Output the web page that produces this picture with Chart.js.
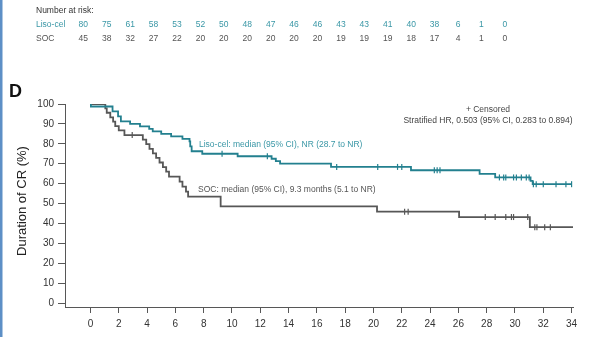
<!DOCTYPE html>
<html>
<head>
<meta charset="utf-8">
<script src="https://cdn.jsdelivr.net/npm/chart.js@4"></script>
<style>body{margin:0;background:#fff}</style>
</head>
<body>
<canvas id="myChart" width="599" height="337"></canvas>
<script>
// Duration of CR - Kaplan-Meier, Liso-cel vs SOC

const xTicks = [0, 2, 4, 6, 8, 10, 12, 14, 16, 18, 20, 22, 24, 26, 28, 30, 32, 34]
const yTicks = [0, 10, 20, 30, 40, 50, 60, 70, 80, 90, 100]

const lisoTimes = [0, 0.03, 1.56, 1.95, 2.15, 2.8, 3.5, 4.15, 4.4, 5.0, 5.7, 6.5, 7.0, 7.05, 7.15, 7.9, 10.4, 12.8, 13.1, 13.4, 17.0, 22.65, 27.5, 28.6, 31.1, 31.25]
const lisoSurv  = [100, 98.75, 96.25, 93.75, 91.25, 90, 88.75, 87.5, 86.25, 85, 83.75, 82.5, 81.25, 78.75, 76.25, 75, 73.75, 72.5, 71.25, 70, 68.4, 66.7, 64.9, 63.1, 61.4, 59.7]
const lisoCensored = [9.3, 12.5, 17.4, 20.3, 21.7, 22.0, 24.3, 24.5, 24.7, 28.9, 29.2, 29.35, 29.9, 30.1, 30.45, 30.8, 31.0, 31.3, 31.5, 32.0, 32.9, 33.6, 34.0]

const socTimes = [0, 1.05, 1.15, 1.4, 1.6, 1.75, 2.0, 2.4, 3.7, 3.94, 4.17, 4.41, 4.64, 4.88, 5.12, 5.35, 5.55, 6.3, 6.5, 6.75, 6.9, 9.2, 20.25, 26.05, 31.05]
const socSurv  = [100, 97.8, 95.6, 93.3, 91.1, 88.9, 86.7, 84.4, 82.1, 79.8, 77.5, 75.2, 72.9, 70.6, 68.3, 66.0, 63.5, 61.0, 58.5, 56.0, 53.5, 48.6, 45.9, 43.2, 38.1]
const socCensored = [2.95, 22.2, 22.45, 27.9, 28.6, 29.35, 29.75, 29.9, 30.9, 31.4, 31.55, 32.1, 32.5, 34.55]

const riskLiso = [80, 75, 61, 58, 53, 52, 50, 48, 47, 46, 46, 43, 43, 41, 40, 38, 6, 1, 0]
const riskSoc  = [45, 38, 32, 27, 22, 20, 20, 20, 20, 20, 20, 19, 19, 19, 18, 17, 4, 1, 0]

const teal = '#23808f'
const tealText = '#3a97a6'
const grey = '#575757'

function kmAt(times, surv, t) {
  let v = surv[0]
  for (let i = 0; i < times.length; i++) if (times[i] <= t) v = surv[i]
  return v
}

function curve(times, surv, cens) {
  const pts = times.map((t, i) => ({x: t, y: surv[i]}))
  const end = Math.max(...cens)
  if (end > times[times.length - 1]) pts.push({x: end, y: surv[surv.length - 1]})
  return pts
}

const ctx = document.querySelector('#myChart')

const data = {
  datasets: [
    {
      type: 'line', data: curve(lisoTimes, lisoSurv, lisoCensored),
      borderColor: teal, borderWidth: 1.8, stepped: 'before', pointRadius: 0, fill: false
    },
    {
      type: 'line', data: curve(socTimes, socSurv, socCensored),
      borderColor: grey, borderWidth: 1.8, stepped: 'before', pointRadius: 0, fill: false
    },
    {
      type: 'scatter', data: socCensored.map(t => ({x: t, y: kmAt(socTimes, socSurv, t)})),
      pointStyle: 'line', rotation: 90, radius: 3, borderColor: grey, borderWidth: 1.2
    },
    {
      type: 'scatter', data: lisoCensored.map(t => ({x: t, y: kmAt(lisoTimes, lisoSurv, t)})),
      pointStyle: 'line', rotation: 90, radius: 3, borderColor: teal, borderWidth: 1.2
    }
  ]
}

const textPlugin = {
  id: 'texts',
  afterDraw(chart) {
    const c = chart.ctx
    c.save()
    // left edge stripe
    c.fillStyle = '#5d8fc6'
    c.fillRect(0, 0, 2.5, 337)

    c.textBaseline = 'middle'
    c.textAlign = 'left'
    c.font = '8.5px "Liberation Sans"'
    c.fillStyle = '#333'
    c.fillText('Number at risk:', 36, 11)
    c.fillStyle = tealText
    c.fillText('Liso-cel', 36, 25)
    c.fillStyle = '#555'
    c.fillText('SOC', 36, 39)
    c.textAlign = 'center'
    riskLiso.forEach((n, i) => {
      c.fillStyle = tealText
      c.fillText(String(n), 83.3 + i * 23.42, 25)
    })
    riskSoc.forEach((n, i) => {
      c.fillStyle = '#555'
      c.fillText(String(n), 83.3 + i * 23.42, 39)
    })

    c.textAlign = 'left'
    c.fillStyle = '#111'
    c.font = 'bold 18px "Liberation Sans"'
    c.fillText('D', 9, 92)

    c.font = '8.5px "Liberation Sans"'
    c.fillStyle = tealText
    c.fillText('Liso-cel: median (95% CI), NR (28.7 to NR)', 199, 145)
    c.fillStyle = '#555'
    c.fillText('SOC: median (95% CI), 9.3 months (5.1 to NR)', 198, 190)

    c.textAlign = 'center'
    c.fillStyle = '#444'
    c.fillText('+ Censored', 488, 110)
    c.fillText('Stratified HR, 0.503 (95% CI, 0.283 to 0.894)', 488, 121)

    c.translate(22, 201)
    c.rotate(-Math.PI / 2)
    c.font = '13px "Liberation Sans"'
    c.fillStyle = '#222'
    c.fillText('Duration of CR (%)', 0, 0)
    c.restore()
  }
}

const options = {
  responsive: false,
  animation: false,
  layout: {padding: {left: 0, top: 104, right: 26, bottom: 0}},
  plugins: {legend: {display: false}, tooltip: {enabled: false}},
  scales: {
    x: {
      type: 'linear', min: -1.8, max: 34.1,
      afterBuildTicks: s => { s.ticks = xTicks.map(v => ({value: v})) },
      afterFit: s => { s.height = 30 },
      grid: {drawOnChartArea: false, drawTicks: true, tickLength: 6, color: grey},
      border: {color: grey, width: 1},
      ticks: {color: '#333', font: {family: 'Liberation Sans', size: 10}, padding: 5, maxRotation: 0}
    },
    y: {
      type: 'linear', min: -2, max: 100,
      afterBuildTicks: s => { s.ticks = yTicks.map(v => ({value: v})) },
      afterFit: s => { s.width = 65 },
      grid: {drawOnChartArea: false, drawTicks: true, tickLength: 7, color: grey},
      border: {color: grey, width: 1},
      ticks: {color: '#333', font: {family: 'Liberation Sans', size: 10}, padding: 4}
    }
  }
}

const config = {
  type: 'line',
  data: data,
  options: options,
  plugins: [textPlugin]
}

const chart = new Chart(ctx, config)
</script>
</body>
</html>
